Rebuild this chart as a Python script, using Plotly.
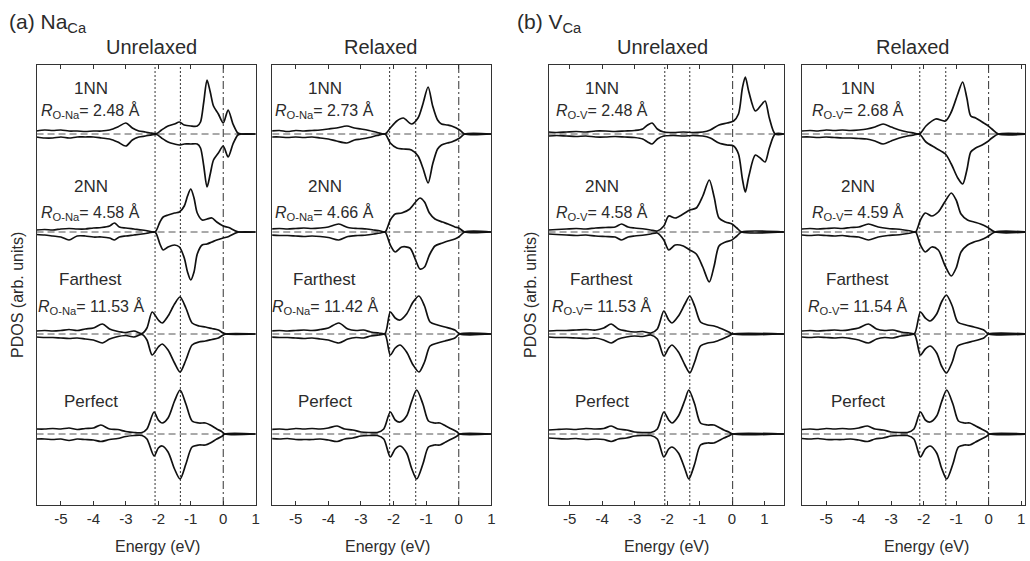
import plotly.graph_objects as go

W, H = 1030, 561

# ---------------- data (energies in eV, PDOS in arb. units) ----------------
# (a) Na_Ca, unrelaxed
A_UN_1NN_E = [-5.75,-5.5,-5.25,-5.0,-4.75,-4.5,-4.25,-4.0,-3.75,-3.5,-3.25,-3.0,-2.8,-2.6,-2.4,-2.2,-2.05,-1.9,-1.7,-1.5,-1.35,-1.2,-1.0,-0.8,-0.7,-0.6,-0.5,-0.4,-0.3,-0.15,0.0,0.15,0.3,0.45,0.55,1.0]
A_UN_1NN_UP = [0.3,0.4,0.35,0.4,0.3,0.3,0.25,0.3,0.3,0.4,0.7,1.1,0.6,0.3,0.2,0.08,0.05,0.4,0.8,1.0,1.2,0.9,0.8,0.8,1.2,3.2,5.4,4.2,2.8,2.0,1.1,2.4,1.0,0.1,0,0]
A_UN_1NN_DN = [-0.3,-0.4,-0.4,-0.3,-0.4,-0.3,-0.3,-0.3,-0.4,-0.5,-0.8,-1.2,-0.6,-0.3,-0.2,-0.08,-0.05,-0.4,-0.8,-1.0,-1.1,-1.0,-1.0,-1.0,-1.4,-3.2,-5.3,-4.0,-2.6,-1.9,-1.2,-2.3,-1.0,-0.1,0,0]

A_UN_2NN_E = [-5.75,-5.5,-5.25,-5.0,-4.75,-4.5,-4.25,-4.0,-3.75,-3.5,-3.35,-3.2,-3.0,-2.75,-2.5,-2.3,-2.1,-1.95,-1.85,-1.7,-1.5,-1.35,-1.2,-1.1,-1.0,-0.9,-0.8,-0.65,-0.5,-0.35,-0.2,0.0,0.17,0.35,0.48,1.0]
A_UN_2NN_UP = [0.2,0.25,0.2,0.3,0.35,0.3,0.3,0.4,0.45,0.6,0.9,0.5,0.4,0.3,0.2,0.1,0.0,1.0,1.5,1.7,1.9,2.0,2.6,3.6,4.3,3.4,1.9,1.2,1.3,1.4,1.0,0.6,0.45,0.15,0,0]
A_UN_2NN_DN = [-0.25,-0.3,-0.4,-0.5,-0.8,-0.4,-0.4,-0.5,-0.5,-0.6,-0.8,-0.5,-0.4,-0.3,-0.2,-0.1,0.0,-1.2,-1.8,-1.5,-1.3,-1.5,-2.6,-4.0,-4.8,-4.0,-2.2,-1.3,-1.2,-1.0,-0.8,-0.6,-0.45,-0.15,0,0]

A_UN_FAR_E = [-5.75,-5.5,-5.25,-5.0,-4.75,-4.5,-4.25,-4.0,-3.72,-3.5,-3.3,-3.0,-2.75,-2.5,-2.35,-2.19,-2.0,-1.88,-1.7,-1.5,-1.33,-1.15,-0.96,-0.75,-0.55,-0.35,-0.15,0.0,0.1,1.0]
A_UN_FAR_UP = [0.3,0.35,0.3,0.35,0.45,0.35,0.5,0.6,1.0,0.5,0.3,0.15,0.3,0.05,0.6,2.2,1.4,1.1,1.8,3.0,3.7,2.6,1.1,0.8,0.7,0.55,0.4,0.1,0,0]
A_UN_FAR_DN = [-0.3,-0.35,-0.35,-0.4,-0.45,-0.4,-0.5,-0.6,-0.9,-0.5,-0.3,-0.15,-0.3,-0.05,-0.6,-2.1,-1.3,-1.0,-1.6,-2.9,-3.8,-2.6,-1.1,-0.8,-0.7,-0.55,-0.4,-0.1,0,0]

A_UN_PER_E = [-5.75,-5.5,-5.25,-5.0,-4.75,-4.5,-4.25,-4.0,-3.77,-3.5,-3.25,-3.0,-2.75,-2.5,-2.35,-2.13,-2.0,-1.88,-1.7,-1.5,-1.33,-1.15,-0.96,-0.75,-0.55,-0.4,-0.2,-0.05,0.05,1.0]
A_UN_PER_UP = [0.5,0.5,0.55,0.5,0.6,0.45,0.55,0.6,0.9,0.5,0.45,0.25,0.15,0.15,0.5,2.2,1.4,1.1,1.6,3.3,4.4,3.0,1.3,1.1,1.1,0.9,0.5,0.25,0,0]
A_UN_PER_DN = [-0.5,-0.5,-0.55,-0.5,-0.65,-0.5,-0.55,-0.6,-0.75,-0.55,-0.45,-0.25,-0.15,-0.15,-0.5,-2.2,-1.4,-1.2,-1.8,-3.5,-4.5,-3.0,-1.3,-1.1,-1.1,-0.9,-0.5,-0.25,0,0]

# (a) Na_Ca, relaxed
A_RE_1NN_E = [-5.75,-5.5,-5.25,-5.0,-4.75,-4.5,-4.25,-4.0,-3.75,-3.43,-3.2,-3.0,-2.75,-2.5,-2.26,-2.1,-1.9,-1.7,-1.45,-1.25,-1.1,-0.94,-0.8,-0.65,-0.53,-0.35,-0.22,0.03,0.18,1.0]
A_RE_1NN_UP = [0.3,0.35,0.25,0.35,0.3,0.35,0.4,0.5,0.6,0.8,0.6,0.5,0.35,0.15,0.0,0.6,1.3,1.6,1.0,1.6,3.0,4.7,2.8,1.4,1.0,0.9,0.8,0.4,0,0]
A_RE_1NN_DN = [-0.3,-0.3,-0.35,-0.3,-0.35,-0.3,-0.4,-0.5,-0.7,-0.9,-0.6,-0.5,-0.35,-0.15,0.0,-0.9,-1.4,-1.5,-1.6,-2.2,-3.4,-4.9,-3.0,-1.5,-1.1,-0.9,-0.8,-0.4,0,0]

A_RE_2NN_E = [-5.75,-5.5,-5.25,-5.0,-4.75,-4.5,-4.25,-4.0,-3.68,-3.4,-3.1,-2.82,-2.6,-2.4,-2.26,-2.1,-1.95,-1.75,-1.5,-1.3,-1.19,-1.05,-0.9,-0.73,-0.5,-0.33,-0.12,0.0,0.18,1.0]
A_RE_2NN_UP = [0.3,0.35,0.3,0.35,0.4,0.35,0.4,0.5,0.8,0.45,0.35,0.3,0.2,0.1,0.0,1.2,1.8,1.9,2.3,3.1,3.4,3.0,1.9,1.3,1.0,0.8,0.5,0.4,0,0]
A_RE_2NN_DN = [-0.3,-0.35,-0.35,-0.4,-0.45,-0.4,-0.45,-0.55,-0.8,-0.45,-0.35,-0.3,-0.2,-0.1,0.0,-1.3,-2.0,-1.5,-1.6,-3.0,-3.7,-3.5,-2.3,-1.4,-1.1,-0.9,-0.7,-0.5,0,0]

A_RE_FAR_E = [-5.75,-5.5,-5.25,-5.0,-4.75,-4.5,-4.25,-4.0,-3.68,-3.4,-3.15,-2.92,-2.7,-2.45,-2.26,-2.1,-1.95,-1.8,-1.6,-1.4,-1.22,-1.05,-0.88,-0.65,-0.42,-0.12,0.03,1.0]
A_RE_FAR_UP = [0.3,0.35,0.3,0.35,0.4,0.35,0.45,0.6,1.1,0.5,0.35,0.4,0.2,0.1,0.05,2.2,1.6,1.4,2.0,3.2,3.8,2.8,1.2,0.9,0.7,0.4,0,0]
A_RE_FAR_DN = [-0.3,-0.35,-0.35,-0.4,-0.45,-0.4,-0.5,-0.6,-0.9,-0.5,-0.35,-0.4,-0.2,-0.1,-0.05,-2.1,-1.4,-1.1,-1.8,-3.1,-3.8,-2.8,-1.2,-0.9,-0.7,-0.4,0,0]

A_RE_PER_E = [-5.75,-5.5,-5.25,-5.0,-4.75,-4.5,-4.25,-4.0,-3.73,-3.5,-3.25,-3.0,-2.75,-2.5,-2.3,-2.1,-1.95,-1.8,-1.6,-1.45,-1.29,-1.1,-0.93,-0.75,-0.58,-0.4,-0.22,-0.05,0.03,1.0]
A_RE_PER_UP = [0.45,0.5,0.45,0.55,0.5,0.55,0.5,0.6,0.8,0.5,0.4,0.2,0.15,0.15,0.5,2.2,1.4,1.2,1.8,3.2,4.4,3.0,1.3,1.1,1.1,0.8,0.5,0.2,0,0]
A_RE_PER_DN = [-0.45,-0.5,-0.45,-0.55,-0.55,-0.55,-0.5,-0.6,-0.75,-0.5,-0.4,-0.2,-0.15,-0.15,-0.5,-2.3,-1.5,-1.2,-1.9,-3.4,-4.5,-3.0,-1.3,-1.1,-1.1,-0.8,-0.5,-0.2,0,0]

# (b) V_Ca, unrelaxed
B_UN_1NN_E = [-5.65,-5.4,-5.1,-4.8,-4.5,-4.2,-3.9,-3.6,-3.3,-3.0,-2.75,-2.6,-2.46,-2.3,-2.1,-1.8,-1.5,-1.2,-0.9,-0.67,-0.4,-0.15,0.05,0.2,0.32,0.41,0.52,0.72,0.9,1.02,1.15,1.33,1.6]
B_UN_1NN_UP = [0.2,0.15,0.2,0.25,0.2,0.3,0.3,0.25,0.3,0.35,0.5,0.9,1.1,0.5,0.2,0.15,0.2,0.15,0.2,0.4,0.9,1.1,1.3,2.0,4.6,5.7,4.2,2.3,2.9,3.3,1.6,0,0]
B_UN_1NN_DN = [-0.2,-0.15,-0.2,-0.25,-0.2,-0.3,-0.3,-0.25,-0.3,-0.35,-0.5,-0.8,-1.0,-0.5,-0.2,-0.15,-0.2,-0.15,-0.2,-0.4,-0.9,-1.1,-1.2,-2.0,-4.5,-5.8,-4.2,-2.1,-2.5,-2.8,-1.4,0,0]

B_UN_2NN_E = [-5.65,-5.4,-5.1,-4.8,-4.5,-4.2,-3.9,-3.6,-3.4,-3.2,-3.0,-2.7,-2.5,-2.3,-2.1,-1.95,-1.75,-1.5,-1.3,-1.1,-0.9,-0.7,-0.55,-0.4,-0.2,0.0,0.15,0.3,1.6]
B_UN_2NN_UP = [0.2,0.25,0.3,0.35,0.3,0.4,0.45,0.5,0.8,0.5,0.4,0.3,0.2,0.1,0.6,1.6,1.4,1.8,2.2,2.4,3.6,5.2,3.5,1.4,1.0,0.8,0.4,0,0]
B_UN_2NN_DN = [-0.2,-0.25,-0.3,-0.35,-0.3,-0.4,-0.45,-0.5,-0.8,-0.5,-0.4,-0.3,-0.2,-0.1,-0.8,-1.8,-1.3,-1.4,-1.8,-2.2,-3.5,-5.0,-3.4,-1.4,-1.0,-0.8,-0.4,0,0]

B_UN_FAR_E = [-5.65,-5.4,-5.1,-4.8,-4.5,-4.2,-3.95,-3.72,-3.5,-3.25,-3.0,-2.75,-2.5,-2.3,-2.1,-1.95,-1.85,-1.65,-1.45,-1.3,-1.15,-0.97,-0.75,-0.55,-0.3,-0.1,0.02,1.6]
B_UN_FAR_UP = [0.3,0.35,0.35,0.4,0.45,0.4,0.6,1.0,0.5,0.3,0.2,0.25,0.1,0.5,2.3,1.4,1.1,1.8,3.0,3.8,2.8,1.2,0.9,0.8,0.5,0.2,0,0]
B_UN_FAR_DN = [-0.3,-0.35,-0.35,-0.4,-0.45,-0.4,-0.6,-0.9,-0.5,-0.3,-0.2,-0.25,-0.1,-0.5,-2.2,-1.4,-1.1,-1.8,-3.1,-3.9,-2.8,-1.2,-0.9,-0.8,-0.5,-0.2,0,0]

B_UN_PER_E = [-5.65,-5.4,-5.1,-4.8,-4.5,-4.2,-3.95,-3.72,-3.5,-3.25,-3.0,-2.75,-2.5,-2.3,-2.1,-1.95,-1.85,-1.65,-1.45,-1.33,-1.15,-0.97,-0.75,-0.56,-0.25,-0.1,0.02,1.6]
B_UN_PER_UP = [0.4,0.45,0.5,0.45,0.55,0.5,0.55,0.8,0.5,0.4,0.2,0.15,0.15,0.5,2.2,1.4,1.1,1.8,3.4,4.4,3.0,1.1,0.9,0.9,0.4,0.2,0,0]
B_UN_PER_DN = [-0.4,-0.45,-0.5,-0.45,-0.55,-0.5,-0.55,-0.75,-0.5,-0.4,-0.2,-0.15,-0.15,-0.5,-2.3,-1.5,-1.3,-1.9,-3.5,-4.5,-3.0,-1.1,-0.9,-0.9,-0.4,-0.2,0,0]

# (b) V_Ca, relaxed
B_RE_1NN_E = [-5.75,-5.5,-5.25,-5.0,-4.75,-4.5,-4.25,-4.0,-3.75,-3.5,-3.25,-3.0,-2.75,-2.5,-2.3,-2.13,-1.93,-1.63,-1.33,-1.15,-0.95,-0.8,-0.67,-0.55,-0.4,-0.2,-0.05,0.1,0.3,1.2]
B_RE_1NN_UP = [0.3,0.35,0.3,0.4,0.35,0.4,0.35,0.4,0.5,0.7,1.0,0.7,0.4,0.2,0.1,0.0,0.8,1.5,1.3,2.2,4.0,5.2,3.6,1.8,1.6,1.2,0.9,0.5,0,0]
B_RE_1NN_DN = [-0.3,-0.3,-0.35,-0.3,-0.35,-0.4,-0.4,-0.45,-0.5,-0.7,-1.0,-0.7,-0.4,-0.2,-0.1,0.0,-0.8,-1.4,-2.0,-3.0,-4.4,-5.0,-3.6,-1.8,-1.4,-1.1,-0.8,-0.4,0,0]

B_RE_2NN_E = [-5.75,-5.5,-5.25,-5.0,-4.75,-4.5,-4.25,-4.0,-3.7,-3.4,-3.1,-2.85,-2.6,-2.4,-2.25,-2.1,-1.95,-1.75,-1.55,-1.35,-1.15,-1.0,-0.85,-0.65,-0.45,-0.25,-0.05,0.2,1.2]
B_RE_2NN_UP = [0.3,0.35,0.3,0.35,0.4,0.35,0.45,0.5,0.8,0.5,0.35,0.3,0.2,0.1,0.0,1.2,1.9,1.6,2.0,3.0,3.9,3.2,1.8,1.2,1.0,0.8,0.5,0,0]
B_RE_2NN_DN = [-0.3,-0.35,-0.3,-0.35,-0.4,-0.35,-0.45,-0.5,-0.8,-0.5,-0.35,-0.3,-0.2,-0.1,0.0,-1.3,-2.0,-1.5,-1.8,-3.3,-4.4,-3.6,-2.0,-1.3,-1.0,-0.8,-0.5,0,0]

B_RE_FAR_E = [-5.75,-5.5,-5.25,-5.0,-4.75,-4.5,-4.25,-4.0,-3.7,-3.45,-3.2,-2.95,-2.7,-2.45,-2.28,-2.1,-1.95,-1.8,-1.6,-1.45,-1.3,-1.12,-0.95,-0.7,-0.45,-0.15,0.0,1.2]
B_RE_FAR_UP = [0.3,0.35,0.3,0.35,0.4,0.35,0.45,0.6,1.0,0.5,0.35,0.4,0.2,0.1,0.05,2.2,1.6,1.3,2.0,3.2,3.9,2.8,1.2,0.9,0.7,0.4,0,0]
B_RE_FAR_DN = [-0.3,-0.35,-0.3,-0.35,-0.4,-0.35,-0.45,-0.6,-0.9,-0.5,-0.35,-0.4,-0.2,-0.1,-0.05,-2.1,-1.5,-1.2,-1.9,-3.2,-3.9,-2.8,-1.2,-0.9,-0.7,-0.4,0,0]

B_RE_PER_E = [-5.75,-5.5,-5.25,-5.0,-4.75,-4.5,-4.25,-4.0,-3.73,-3.5,-3.25,-3.0,-2.75,-2.5,-2.3,-2.1,-1.95,-1.8,-1.6,-1.45,-1.29,-1.1,-0.93,-0.75,-0.58,-0.4,-0.22,-0.05,0.03,1.2]
B_RE_PER_UP = [0.45,0.5,0.45,0.55,0.5,0.55,0.5,0.6,0.8,0.5,0.4,0.2,0.15,0.15,0.5,2.2,1.4,1.2,1.8,3.2,4.4,3.0,1.3,1.1,1.1,0.8,0.5,0.2,0,0]
B_RE_PER_DN = [-0.45,-0.5,-0.45,-0.55,-0.55,-0.55,-0.5,-0.6,-0.75,-0.5,-0.4,-0.2,-0.15,-0.15,-0.5,-2.3,-1.5,-1.2,-1.9,-3.4,-4.5,-3.0,-1.3,-1.1,-1.1,-0.8,-0.5,-0.2,0,0]

STATES = ["1NN", "2NN", "Farthest", "Perfect"]
STATE_OFFSETS = [0, -9.8, -20, -30]
A_UN_R = ["2.48", "4.58", "11.53"]
A_RE_R = ["2.73", "4.66", "11.42"]
B_UN_R = ["2.48", "4.58", "11.53"]
B_RE_R = ["2.68", "4.59", "11.54"]
A_PAIR = "O-Na"
B_PAIR = "O-V"
A_UN_VLINES = [-2.1, -1.32, 0.0]
A_RE_VLINES = [-2.12, -1.32, 0.0]
B_UN_VLINES = [-2.07, -1.3, 0.02]
B_RE_VLINES = [-2.12, -1.32, 0.0]
TICK_VALS = [-5, -4, -3, -2, -1, 0, 1]
TICK_TEXT = ["-5", "-4", "-3", "-2", "-1", "0", "1"]

# ---------------- layout constants ----------------
FONT = "Liberation Sans, Arial, sans-serif"
TXT = "#2b2b2b"
TOP, BOT = 65, 505
Y_RANGE = [-37.1, 6.9]

panels = [
    dict(px=(36.7, 256.7), xr=(-5.75, 1.0), title="Unrelaxed", tcx=152, ecx=158, lcx=91,
         pair=A_PAIR, R=A_UN_R, vl=A_UN_VLINES,
         data=[(A_UN_1NN_E, A_UN_1NN_UP, A_UN_1NN_DN), (A_UN_2NN_E, A_UN_2NN_UP, A_UN_2NN_DN),
               (A_UN_FAR_E, A_UN_FAR_UP, A_UN_FAR_DN), (A_UN_PER_E, A_UN_PER_UP, A_UN_PER_DN)]),
    dict(px=(273.3, 493.3), xr=(-5.72, 1.0), title="Relaxed", tcx=382, ecx=389, lcx=326,
         pair=A_PAIR, R=A_RE_R, vl=A_RE_VLINES,
         data=[(A_RE_1NN_E, A_RE_1NN_UP, A_RE_1NN_DN), (A_RE_2NN_E, A_RE_2NN_UP, A_RE_2NN_DN),
               (A_RE_FAR_E, A_RE_FAR_UP, A_RE_FAR_DN), (A_RE_PER_E, A_RE_PER_UP, A_RE_PER_DN)]),
    dict(px=(550.7, 787.0), xr=(-5.65, 1.6), title="Unrelaxed", tcx=665, ecx=669, lcx=604,
         pair=B_PAIR, R=B_UN_R, vl=B_UN_VLINES,
         data=[(B_UN_1NN_E, B_UN_1NN_UP, B_UN_1NN_DN), (B_UN_2NN_E, B_UN_2NN_UP, B_UN_2NN_DN),
               (B_UN_FAR_E, B_UN_FAR_UP, B_UN_FAR_DN), (B_UN_PER_E, B_UN_PER_UP, B_UN_PER_DN)]),
    dict(px=(805.0, 1029.0), xr=(-5.75, 1.12), title="Relaxed", tcx=916, ecx=930, lcx=861,
         pair=B_PAIR, R=B_RE_R, vl=B_RE_VLINES,
         data=[(B_RE_1NN_E, B_RE_1NN_UP, B_RE_1NN_DN), (B_RE_2NN_E, B_RE_2NN_UP, B_RE_2NN_DN),
               (B_RE_FAR_E, B_RE_FAR_UP, B_RE_FAR_DN), (B_RE_PER_E, B_RE_PER_UP, B_RE_PER_DN)]),
]

def fx(p):
    return p / W

def fy(p):
    return 1 - p / H

fig = go.Figure()
shapes = []
annotations = []
layout = {}

LABEL_Y = [88, 186, 280, 401]
R_Y = [108, 210, 304]

for i, P in enumerate(panels):
    n = "" if i == 0 else str(i + 1)
    xa, ya = "x" + n, "y" + n
    x0p, x1p = P["px"]
    layout["xaxis" + n] = dict(
        domain=[fx(x0p), fx(x1p)], range=list(P["xr"]), anchor=ya,
        tickvals=TICK_VALS, ticktext=TICK_TEXT, ticks="inside", ticklen=4, tickwidth=1,
        tickcolor="#333", showline=True, linecolor="#333", linewidth=1.2, mirror="ticks",
        showgrid=False, zeroline=False, tickfont=dict(family=FONT, size=15, color=TXT),
        ticklabelstandoff=0,
    )
    layout["yaxis" + n] = dict(
        domain=[fy(BOT), fy(TOP)], range=Y_RANGE, anchor=xa, showline=True, linecolor="#333",
        linewidth=1.2, mirror=True, showgrid=False, zeroline=False, ticks="", showticklabels=False,
    )
    for k, (E, up, dn) in enumerate(P["data"]):
        off = STATE_OFFSETS[k]
        for vals in (up, dn):
            fig.add_trace(go.Scatter(
                x=E, y=[off + v for v in vals], xaxis=xa, yaxis=ya, mode="lines",
                line=dict(color="#111111", width=1.7, shape="spline", smoothing=0.8),
                showlegend=False, hoverinfo="skip"))
        shapes.append(dict(type="line", xref=xa, yref=ya, x0=P["xr"][0], x1=P["xr"][1], y0=off, y1=off,
                           line=dict(color="#555", width=1, dash="7px,4px"), layer="below"))
    for j, v in enumerate(P["vl"]):
        dash = "2px,2px" if j < 2 else "8px,3px,2px,3px"
        shapes.append(dict(type="line", xref=xa, yref=ya, x0=v, x1=v, y0=Y_RANGE[0], y1=Y_RANGE[1],
                           line=dict(color="#333", width=1, dash=dash), layer="below"))
    annotations.append(dict(text=P["title"], x=fx(P["tcx"]), y=fy(47), xref="paper", yref="paper",
                            showarrow=False, xanchor="center", yanchor="middle",
                            font=dict(family=FONT, size=20, color=TXT)))
    annotations.append(dict(text="Energy (eV)", x=fx(P["ecx"]), y=fy(546), xref="paper", yref="paper",
                            showarrow=False, xanchor="center", yanchor="middle",
                            font=dict(family=FONT, size=16, color=TXT)))
    lx = P["lcx"]
    for k, s in enumerate(STATES):
        annotations.append(dict(text=s, x=fx(lx), y=fy(LABEL_Y[k]), xref="paper", yref="paper",
                                showarrow=False, xanchor="center", yanchor="middle",
                                font=dict(family=FONT, size=17, color=TXT)))
    for k, r in enumerate(P["R"]):
        annotations.append(dict(text="<i>R</i><sub>%s</sub>= %s Å" % (P["pair"], r),
                                x=fx(lx), y=fy(R_Y[k] + 3), xref="paper", yref="paper",
                                showarrow=False, xanchor="center", yanchor="middle",
                                font=dict(family=FONT, size=16, color=TXT)))

for txt, xp in (("(a) Na<sub>Ca</sub>", 7), ("(b) V<sub>Ca</sub>", 517)):
    annotations.append(dict(text=txt, x=fx(xp), y=fy(23), xref="paper", yref="paper",
                            showarrow=False, xanchor="left", yanchor="middle",
                            font=dict(family=FONT, size=21, color=TXT)))
for xp in (17, 532):
    annotations.append(dict(text="PDOS (arb. units)", x=fx(xp), y=fy(295), xref="paper", yref="paper",
                            showarrow=False, xanchor="center", yanchor="middle", textangle=-90,
                            font=dict(family=FONT, size=16, color=TXT)))

fig.update_layout(width=W, height=H, margin=dict(l=0, r=0, t=0, b=0), paper_bgcolor="white",
                  plot_bgcolor="white", showlegend=False, shapes=shapes, annotations=annotations,
                  **layout)
fig.write_html("out.html")
